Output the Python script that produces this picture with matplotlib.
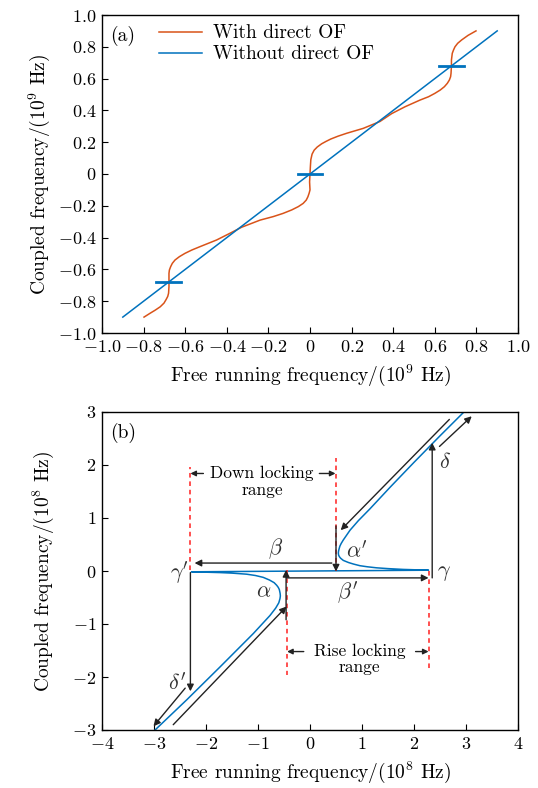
import matplotlib
matplotlib.use('Agg')
import matplotlib.pyplot as plt

plt.rcParams['font.family'] = 'serif'
plt.rcParams['font.serif'] = ['cmr10', 'DejaVu Serif']
plt.rcParams['mathtext.fontset'] = 'cm'
plt.rcParams['axes.unicode_minus'] = False

ORANGE = '#D95319'
BLUE = '#0072BD'

# ---- panel (a) data ----
blue_a_x = [-0.9, 0.9]
blue_a_y = [-0.9, 0.9]
orange_x = [-0.798, -0.769, -0.745, -0.72, -0.702, -0.692, -0.684, -0.68, -0.678,
            -0.678, -0.678, -0.676, -0.67, -0.662, -0.649, -0.628, -0.601, -0.568,
            -0.529, -0.449, -0.385, -0.329, -0.24, -0.177, -0.13, -0.088, -0.056,
            -0.033, -0.018, -0.01, -0.004, 0.0, -0.002, 0.0, 0.002, 0.004, 0.01,
            0.02, 0.035, 0.056, 0.077, 0.10, 0.135, 0.176, 0.256, 0.336, 0.393,
            0.457, 0.529, 0.57, 0.60, 0.626, 0.646, 0.66, 0.67, 0.676, 0.678, 0.68,
            0.68, 0.684, 0.69, 0.697, 0.71, 0.729, 0.76, 0.798]
orange_y = [-0.90, -0.876, -0.857, -0.835, -0.812, -0.79, -0.77, -0.75, -0.709,
            -0.68, -0.625, -0.604, -0.583, -0.562, -0.541, -0.52, -0.499, -0.478,
            -0.457, -0.415, -0.373, -0.335, -0.29, -0.268, -0.248, -0.226, -0.205,
            -0.185, -0.164, -0.143, -0.12, -0.10, -0.05, 0.0, 0.05, 0.09, 0.125,
            0.15, 0.17, 0.19, 0.205, 0.22, 0.238, 0.256, 0.287, 0.33, 0.38, 0.423,
            0.465, 0.486, 0.507, 0.528, 0.549, 0.57, 0.591, 0.612, 0.633, 0.68,
            0.717, 0.759, 0.78, 0.80, 0.822, 0.843, 0.872, 0.90]
marker_x = [-0.68, 0.0, 0.68]
marker_y = [-0.68, 0.0, 0.68]
a_ticks = [-1.0, -0.8, -0.6, -0.4, -0.2, 0.0, 0.2, 0.4, 0.6, 0.8, 1.0]
a_ticklabels = ['$-1.0$', '$-0.8$', '$-0.6$', '$-0.4$', '$-0.2$', '$0$',
                '$0.2$', '$0.4$', '$0.6$', '$0.8$', '$1.0$']

# ---- panel (b) data ----
curve_b_x = [-2.98, -2.37, -1.73, -1.09, -0.77, -0.66, -0.6, -0.577, -0.57, -0.575,
             -0.59, -0.61, -0.64, -0.69, -0.78, -0.90, -1.05, -1.22, -1.5, -1.73, -2.28,
             2.28, 1.79, 1.5, 1.28, 1.1, 0.96, 0.84, 0.74, 0.64, 0.59, 0.565, 0.55,
             0.545, 0.55, 0.56, 0.575, 0.6, 0.64, 0.77, 0.93, 1.15, 1.54, 2.0, 2.5, 2.96]
curve_b_y = [-3.0, -2.43, -1.81, -1.18, -0.84, -0.7, -0.6, -0.52, -0.47, -0.42,
             -0.35, -0.31, -0.27, -0.22, -0.17, -0.12, -0.085, -0.06, -0.04, -0.03, -0.015,
             0.015, 0.03, 0.045, 0.06, 0.08, 0.1, 0.13, 0.16, 0.2, 0.24, 0.27, 0.3,
             0.34, 0.38, 0.42, 0.47, 0.52, 0.585, 0.77, 0.95, 1.17, 1.58, 2.05, 2.55, 3.0]
red_x = [-2.31, 0.5, -0.45, 2.29]
red_y0 = [0.02, 0.0, 0.02, 0.0]
red_y1 = [1.97, 2.13, -1.96, -1.88]
arrow_tail = [(0.42, 0.15), (0.5, 0.85), (2.68, 2.86), (2.49, 2.35), (2.35, -0.13),
              (-0.45, -0.13), (-0.46, -0.92), (-2.63, -2.9), (-2.3, -0.03), (-2.4, -2.21)]
arrow_head = [(-2.22, 0.15), (0.5, -0.01), (0.59, 0.77), (3.11, 2.92), (2.35, 2.42),
              (2.28, -0.13), (-0.46, 0.02), (-0.45, -0.67), (-2.3, -2.27), (-3.01, -2.93)]
greek = [r'$\beta$', r'$\alpha^{\prime}$', r'$\alpha$', r"$\beta^{\prime}$",
         r'$\gamma$', r'$\gamma^{\prime}$', r'$\delta$', r'$\delta^{\prime}$']
greek_x = [-0.66, 0.9, -0.9, 0.72, 2.58, -2.5, 2.6, -2.55]
greek_y = [0.42, 0.36, -0.39, -0.42, -0.05, -0.03, 2.06, -2.12]
b_ticks_x = [-4, -3, -2, -1, 0, 1, 2, 3, 4]
b_ticks_y = [-3, -2, -1, 0, 1, 2, 3]

fig = plt.figure(figsize=(5.38, 7.88), dpi=100)
W, H = 538.0, 788.0
ax1 = fig.add_axes([102 / W, 1 - 333 / H, 416 / W, 318 / H])
ax2 = fig.add_axes([102 / W, 1 - 730 / H, 416 / W, 318 / H])

for ax in (ax1, ax2):
    ax.tick_params(direction='in', length=4, width=0.8, labelsize=13,
                   top=False, right=False, pad=4)
    for s in ax.spines.values():
        s.set_linewidth(1.0)

# panel (a)
ax1.plot(orange_x, orange_y, color=ORANGE, lw=1.1, label='With direct OF')
ax1.plot(blue_a_x, blue_a_y, color=BLUE, lw=1.1, label='Without direct OF')
for mx, my in zip(marker_x, marker_y):
    ax1.plot([mx - 0.06, mx + 0.06], [my, my], color=BLUE, lw=2.0)
ax1.set_xlim(-1, 1)
ax1.set_ylim(-1, 1)
ax1.set_xticks(a_ticks)
ax1.set_xticklabels(a_ticklabels)
ax1.set_yticks(a_ticks)
ax1.set_yticklabels(a_ticklabels)
ax1.set_xlabel(r'Free running frequency/(10$^9$ Hz)', fontsize=14, labelpad=6)
ax1.set_ylabel(r'Coupled frequency/(10$^9$ Hz)', fontsize=14, labelpad=4)
ax1.text(0.02, 0.965, '(a)', transform=ax1.transAxes, fontsize=14, va='top')
ax1.legend(loc='upper left', bbox_to_anchor=(0.095, 1.025), frameon=False,
           fontsize=14, handlelength=2.2, handletextpad=0.6, labelspacing=0.15)

# panel (b)
ax2.plot(curve_b_x, curve_b_y, color=BLUE, lw=1.1)
for rx, y0, y1 in zip(red_x, red_y0, red_y1):
    ax2.plot([rx, rx], [y0, y1], color='#ff2020', lw=1.1, ls=(0, (3, 2.5)))
for t, h in zip(arrow_tail, arrow_head):
    ax2.annotate('', xy=h, xytext=t,
                 arrowprops=dict(arrowstyle='-|>', color='#222222', lw=1.0,
                                 mutation_scale=10, shrinkA=0, shrinkB=0))
for g, gx, gy in zip(greek, greek_x, greek_y):
    ax2.text(gx, gy, g, fontsize=16, ha='center', va='center', color='#333333')

ax2.text(-0.92, 1.84, 'Down locking', fontsize=12.5, ha='center', va='center')
ax2.text(-0.92, 1.53, 'range', fontsize=12.5, ha='center', va='center')
ax2.annotate('', xy=(-2.3, 1.84), xytext=(-2.05, 1.84),
             arrowprops=dict(arrowstyle='-|>', color='#222222', lw=1.0,
                             mutation_scale=8, shrinkA=0, shrinkB=0))
ax2.annotate('', xy=(0.49, 1.84), xytext=(0.18, 1.84),
             arrowprops=dict(arrowstyle='-|>', color='#222222', lw=1.0,
                             mutation_scale=8, shrinkA=0, shrinkB=0))
ax2.text(0.96, -1.52, 'Rise locking', fontsize=12.5, ha='center', va='center')
ax2.text(0.96, -1.81, 'range', fontsize=12.5, ha='center', va='center')
ax2.annotate('', xy=(-0.44, -1.52), xytext=(-0.12, -1.52),
             arrowprops=dict(arrowstyle='-|>', color='#222222', lw=1.0,
                             mutation_scale=8, shrinkA=0, shrinkB=0))
ax2.annotate('', xy=(2.28, -1.52), xytext=(2.03, -1.52),
             arrowprops=dict(arrowstyle='-|>', color='#222222', lw=1.0,
                             mutation_scale=8, shrinkA=0, shrinkB=0))

ax2.set_xlim(-4, 4)
ax2.set_ylim(-3, 3)
ax2.set_xticks(b_ticks_x)
ax2.set_xticklabels(['$%d$' % v for v in b_ticks_x])
ax2.set_yticks(b_ticks_y)
ax2.set_yticklabels(['$%d$' % v for v in b_ticks_y])
ax2.set_xlabel(r'Free running frequency/(10$^8$ Hz)', fontsize=14, labelpad=6)
ax2.set_ylabel(r'Coupled frequency/(10$^8$ Hz)', fontsize=14, labelpad=12)
ax2.text(0.02, 0.965, '(b)', transform=ax2.transAxes, fontsize=14, va='top')

fig.savefig('out.png', dpi=100)
